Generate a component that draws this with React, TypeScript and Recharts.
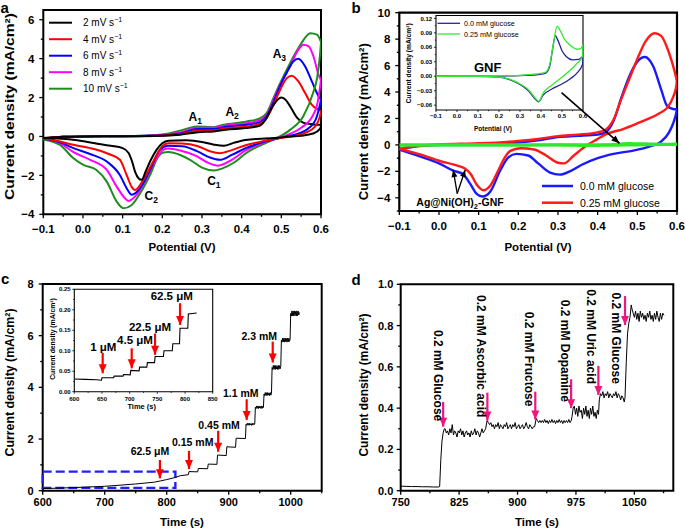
import React from 'react';
import { ComposedChart, Line, XAxis, YAxis, ReferenceArea, ReferenceDot, ReferenceLine } from 'recharts';

const FONT = '"Liberation Sans", Arial, Helvetica, sans-serif';
type Pt = [number, number];

// ---------- (a) CV at different scan rates: [potential (V), current (mA/cm2)] ----------
const aScanRates = ['2', '4', '6', '8', '10'];
const aColors = ['#000000', '#ff0000', '#0000ff', '#ff00ff', '#1e8c1e'];

const a2Fwd: Pt[] = [[-0.1, -0.08], [-0.05, -0.02], [0, 0], [0.1, 0.01], [0.2, 0.04], [0.245, 0.09], [0.27, 0.17], [0.29, 0.22], [0.33, 0.26], [0.36, 0.35], [0.41, 0.43], [0.445, 0.55], [0.46, 0.85], [0.478, 1.55], [0.5, 2.0], [0.51, 1.9], [0.525, 1.45], [0.54, 0.95], [0.556, 0.7], [0.58, 0.62], [0.6, 0.6]];
const a2Rev: Pt[] = [[0.6, 0.6], [0.598, 0.4], [0.58, 0.15], [0.55, 0.04], [0.52, 0], [0.49, -0.07], [0.46, -0.1], [0.41, -0.18], [0.38, -0.33], [0.355, -0.48], [0.33, -0.42], [0.3, -0.28], [0.26, -0.2], [0.215, -0.22], [0.2, -0.35], [0.185, -0.7], [0.17, -1.25], [0.158, -1.8], [0.148, -2.23], [0.14, -2.15], [0.132, -1.85], [0.124, -1.3], [0.115, -0.85], [0.1, -0.6], [0.07, -0.48], [0.03, -0.35], [-0.02, -0.18], [-0.1, -0.08]];

const a4Fwd: Pt[] = [[-0.1, -0.1], [-0.05, -0.02], [0, 0], [0.1, 0.01], [0.2, 0.05], [0.245, 0.12], [0.27, 0.24], [0.29, 0.3], [0.33, 0.32], [0.36, 0.42], [0.41, 0.5], [0.445, 0.65], [0.463, 0.95], [0.48, 1.6], [0.497, 2.4], [0.514, 3.0], [0.526, 3.12], [0.543, 2.83], [0.56, 2.23], [0.577, 1.63], [0.594, 1.37], [0.6, 1.3]];
const a4Rev: Pt[] = [[0.6, 1.3], [0.598, 1.1], [0.585, 0.5], [0.56, 0.18], [0.525, 0], [0.49, -0.1], [0.46, -0.22], [0.41, -0.45], [0.375, -0.7], [0.345, -0.86], [0.32, -0.76], [0.29, -0.5], [0.25, -0.36], [0.215, -0.35], [0.2, -0.5], [0.177, -1.29], [0.152, -2.23], [0.131, -2.75], [0.123, -2.6], [0.11, -1.98], [0.093, -1.2], [0.06, -0.86], [0.018, -0.6], [-0.024, -0.43], [-0.06, -0.25], [-0.1, -0.1]];

const a6Fwd: Pt[] = [[-0.1, -0.12], [-0.05, -0.02], [0, 0], [0.1, 0.01], [0.2, 0.06], [0.245, 0.15], [0.27, 0.3], [0.287, 0.38], [0.33, 0.38], [0.36, 0.5], [0.413, 0.6], [0.447, 0.75], [0.463, 1.05], [0.48, 1.75], [0.497, 2.6], [0.514, 3.3], [0.53, 3.85], [0.543, 3.99], [0.56, 3.6], [0.577, 2.83], [0.594, 2.06], [0.6, 1.9]];
const a6Rev: Pt[] = [[0.6, 1.9], [0.598, 1.7], [0.585, 0.8], [0.56, 0.3], [0.525, 0.05], [0.49, -0.1], [0.46, -0.26], [0.41, -0.6], [0.375, -0.95], [0.345, -1.2], [0.32, -1.08], [0.29, -0.78], [0.25, -0.5], [0.215, -0.48], [0.194, -0.69], [0.169, -1.72], [0.144, -2.66], [0.123, -3.0], [0.11, -2.66], [0.093, -1.98], [0.06, -1.29], [0.018, -0.9], [-0.024, -0.6], [-0.058, -0.3], [-0.1, -0.12]];

const a8Fwd: Pt[] = [[-0.1, -0.12], [-0.05, -0.02], [0, 0], [0.1, 0.01], [0.2, 0.08], [0.245, 0.2], [0.27, 0.36], [0.287, 0.45], [0.33, 0.45], [0.36, 0.57], [0.413, 0.68], [0.447, 0.85], [0.463, 1.1], [0.48, 1.85], [0.497, 2.65], [0.522, 3.6], [0.543, 4.46], [0.556, 4.71], [0.569, 4.63], [0.581, 4.11], [0.594, 3.17], [0.6, 2.9]];
const a8Rev: Pt[] = [[0.6, 2.9], [0.598, 2.6], [0.59, 1.6], [0.58, 1.1], [0.55, 0.45], [0.52, 0.12], [0.49, -0.1], [0.46, -0.28], [0.41, -0.72], [0.375, -1.2], [0.341, -1.5], [0.315, -1.35], [0.285, -1.0], [0.245, -0.72], [0.215, -0.62], [0.203, -0.68], [0.186, -1.12], [0.16, -2.15], [0.135, -3.0], [0.114, -3.31], [0.106, -3.18], [0.085, -2.58], [0.06, -1.72], [0.018, -1.2], [-0.024, -0.81], [-0.058, -0.34], [-0.1, -0.12]];

const a10Fwd: Pt[] = [[-0.1, -0.15], [-0.05, -0.02], [0, 0], [0.1, 0.01], [0.2, 0.1], [0.245, 0.3], [0.27, 0.45], [0.287, 0.51], [0.329, 0.48], [0.354, 0.6], [0.413, 0.77], [0.447, 0.94], [0.463, 1.2], [0.48, 1.97], [0.497, 2.74], [0.522, 3.77], [0.548, 4.71], [0.573, 5.31], [0.59, 5.23], [0.6, 4.85]];
const a10Rev: Pt[] = [[0.6, 4.85], [0.598, 4.3], [0.59, 3.0], [0.58, 2.23], [0.555, 1.03], [0.522, 0.34], [0.488, -0.09], [0.463, -0.31], [0.413, -0.83], [0.38, -1.35], [0.35, -1.65], [0.33, -1.75], [0.3, -1.6], [0.27, -1.2], [0.245, -0.95], [0.215, -0.8], [0.203, -0.82], [0.19, -1.03], [0.169, -1.98], [0.144, -2.92], [0.123, -3.52], [0.102, -3.69], [0.085, -3.35], [0.06, -2.32], [0.034, -1.72], [0.001, -1.46], [-0.024, -1.12], [-0.058, -0.43], [-0.1, -0.15]];

const aFwd = [a2Fwd, a4Fwd, a6Fwd, a8Fwd, a10Fwd];
const aRev = [a2Rev, a4Rev, a6Rev, a8Rev, a10Rev];

const aPeakName = ['A', 'A', 'A', 'C', 'C'];
const aPeakSub = ['1', '2', '3', '1', '2'];
const aPeakPot = [0.283, 0.376, 0.495, 0.33, 0.172];
const aPeakCur = [1.02, 1.29, 4.25, -2.26, -3.05];

// ---------- (b) Ag@Ni(OH)2-GNF with / without glucose ----------
const bLabels = ['0.0 mM glucose', '0.25 mM glucose'];
const bColors = ['#1a1aff', '#ff1a1a'];
const bBlueFwd: Pt[] = [[-0.1, -0.35], [-0.06, -0.12], [0, 0], [0.1, 0.06], [0.2, 0.18], [0.25, 0.35], [0.3, 0.6], [0.35, 0.68], [0.4, 0.78], [0.42, 0.95], [0.44, 1.8], [0.46, 3.6], [0.48, 5.2], [0.5, 6.3], [0.519, 6.65], [0.54, 5.95], [0.56, 4.2], [0.575, 2.95], [0.59, 2.72], [0.6, 2.7]];
const bBlueRev: Pt[] = [[0.6, 2.7], [0.598, 2.4], [0.59, 1.6], [0.58, 0.95], [0.56, 0.25], [0.53, -0.13], [0.49, -0.43], [0.44, -0.68], [0.4, -1.0], [0.36, -1.5], [0.33, -2.0], [0.305, -2.25], [0.28, -2.1], [0.25, -1.4], [0.225, -0.8], [0.195, -0.68], [0.175, -0.95], [0.155, -1.9], [0.13, -3.5], [0.11, -3.9], [0.095, -3.7], [0.08, -3.0], [0.06, -2.2], [0.036, -1.95], [0, -1.4], [-0.05, -0.85], [-0.1, -0.35]];
const bRedFwd: Pt[] = [[-0.1, -0.3], [-0.06, -0.1], [0, 0.03], [0.1, 0.12], [0.2, 0.3], [0.25, 0.45], [0.3, 0.66], [0.35, 0.78], [0.4, 0.95], [0.42, 1.15], [0.44, 1.9], [0.46, 3.5], [0.48, 5.0], [0.5, 6.5], [0.52, 7.8], [0.544, 8.45], [0.56, 8.25], [0.58, 6.95], [0.595, 5.45], [0.6, 4.8]];
const bRedRev: Pt[] = [[0.6, 4.8], [0.598, 4.4], [0.59, 3.6], [0.575, 2.8], [0.556, 2.4], [0.53, 2.0], [0.506, 1.7], [0.464, 1.2], [0.42, 0.8], [0.397, 0.4], [0.372, -0.05], [0.34, -0.8], [0.315, -1.4], [0.3, -1.35], [0.27, -0.8], [0.24, -0.35], [0.205, -0.25], [0.18, -0.45], [0.165, -1.0], [0.15, -1.9], [0.13, -3.05], [0.112, -3.43], [0.095, -3.0], [0.08, -2.2], [0.066, -1.8], [0.05, -1.6], [0, -1.2], [-0.05, -0.7], [-0.1, -0.3]];

// inset: bare GNF
const ibColors = ['#25259a', '#33e833'];
const ibBlueFwd: Pt[] = [[-0.1, 0], [0.1, 0], [0.2, 0.0005], [0.3, 0.0015], [0.38, 0.003], [0.42, 0.006], [0.44, 0.018], [0.455, 0.055], [0.468, 0.084], [0.48, 0.075], [0.5, 0.053], [0.52, 0.041], [0.55, 0.034], [0.58, 0.035], [0.6, 0.042]];
const ibBlueRev: Pt[] = [[0.6, 0.042], [0.598, 0.025], [0.57, 0.006], [0.54, -0.005], [0.5, -0.016], [0.45, -0.027], [0.41, -0.039], [0.388, -0.053], [0.37, -0.046], [0.34, -0.03], [0.3, -0.017], [0.25, -0.007], [0.2, -0.002], [0.1, 0], [-0.1, 0]];
const ibGreenFwd: Pt[] = [[-0.1, 0], [0.1, 0.0005], [0.2, 0.001], [0.3, 0.002], [0.38, 0.005], [0.42, 0.008], [0.44, 0.022], [0.46, 0.07], [0.477, 0.104], [0.49, 0.096], [0.51, 0.078], [0.54, 0.064], [0.57, 0.056], [0.59, 0.058], [0.6, 0.066]];
const ibGreenRev: Pt[] = [[0.6, 0.066], [0.598, 0.042], [0.57, 0.026], [0.54, 0.013], [0.5, -0.002], [0.45, -0.019], [0.41, -0.035], [0.39, -0.052], [0.37, -0.044], [0.34, -0.028], [0.3, -0.016], [0.25, -0.006], [0.2, -0.002], [0.1, 0], [-0.1, 0]];

// ---------- (c) amperometric response, stepwise glucose additions ----------
const cRampTime = [600, 650, 700, 750, 780, 790, 800, 812, 822, 835];
const cRampCurrent = [0.08, 0.12, 0.17, 0.26, 0.33, 0.38, 0.43, 0.5, 0.58, 0.62];
const cStepStart = [836, 851, 867, 882, 897, 912, 928, 943, 957, 970, 985, 1000];
const cStepEnd = [850, 866, 881, 896, 911, 927, 942, 956, 969, 984, 999, 1014];
const cStepValues = [
  [0.74, 0.73],
  [0.86, 0.85],
  [1.03, 1.02],
  [1.38, 1.36],
  [1.7, 1.68],
  [2.03, 2.02],
  [2.57, 2.53, 2.61, 2.54, 2.6, 2.53, 2.61, 2.55, 2.59, 2.53, 2.61, 2.54, 2.6, 2.56, 2.58],
  [3.23, 3.18, 3.28, 3.19, 3.27, 3.18, 3.28, 3.2, 3.26, 3.18, 3.28, 3.19, 3.27, 3.22],
  [3.74, 3.68, 3.8, 3.69, 3.79, 3.68, 3.8, 3.7, 3.78, 3.68, 3.8, 3.7, 3.76],
  [4.77, 4.69, 4.85, 4.7, 4.84, 4.69, 4.85, 4.71, 4.83, 4.69, 4.85, 4.7, 4.84, 4.72, 4.8],
  [5.83, 5.75, 5.91, 5.76, 5.9, 5.75, 5.91, 5.77, 5.89, 5.75, 5.91, 5.76, 5.9, 5.78, 5.86],
  [6.86, 6.76, 6.96, 6.77, 6.95, 6.76, 6.96, 6.78, 6.94, 6.76, 6.96, 6.77, 6.95, 6.8, 6.9],
];
const cArrowText = ['62.5 μM', '0.15 mM', '0.45 mM', '1.1 mM', '2.3 mM'];
const cArrowTime = [789, 836, 883, 929, 971];
const cArrowTail = [1.19, 1.54, 2.32, 3.54, 5.77];
const cArrowTip = [0.48, 0.84, 1.51, 2.74, 4.96];
const cTextTime = [773, 842, 884.4, 919.4, 949.4];
const cTextCurrent = [1.51, 1.86, 2.54, 3.77, 5.99];

// inset: low concentration range
const icTime = [600, 620, 640, 649, 650, 671, 672, 688, 689, 701, 702, 717, 718, 731, 732, 745, 746, 761, 762, 777, 778, 790, 791, 805, 806, 821];
const icCurrent = [0.031, 0.03, 0.029, 0.028, 0.034, 0.034, 0.038, 0.038, 0.042, 0.041, 0.052, 0.051, 0.06, 0.06, 0.071, 0.071, 0.086, 0.086, 0.1, 0.1, 0.117, 0.117, 0.155, 0.155, 0.19, 0.192];
const icArrowText = ['1 μM', '4.5 μM', '22.5 μM', '62.5 μM'];
const icArrowTime = [651.3, 703.7, 745.8, 791];
const icArrowTail = [0.095, 0.106, 0.142, 0.216];
const icArrowTip = [0.045, 0.057, 0.09, 0.163];
const icTextTime = [652.4, 709.6, 736.7, 776];
const icTextCurrent = [0.11, 0.126, 0.159, 0.234];

// ---------- (d) interference test ----------
const dSegStart = [750, 800, 807, 861, 924, 970, 1005, 1038, 1047];
const dSegEnd = [799, 806, 859, 922, 969, 1004, 1037, 1046, 1088];
const dSegValues = [
  [0.022, 0.021, 0.02, 0.02, 0.019, 0.019, 0.018, 0.018],
  [0.02, 0.15, 0.24, 0.28, 0.3],
  [0.3, 0.28, 0.29, 0.27, 0.3, 0.28, 0.32, 0.27, 0.29, 0.28, 0.26, 0.29, 0.28, 0.3, 0.27, 0.29, 0.26, 0.28, 0.29, 0.27, 0.28, 0.26, 0.29, 0.27, 0.28, 0.3, 0.27, 0.29, 0.28, 0.26, 0.28, 0.3, 0.28, 0.29, 0.3],
  [0.34, 0.33, 0.32, 0.33, 0.31, 0.32, 0.3, 0.32, 0.31, 0.33, 0.3, 0.32, 0.31, 0.3, 0.32, 0.31, 0.33, 0.3, 0.31, 0.32, 0.3, 0.32, 0.31, 0.33, 0.3, 0.31, 0.32, 0.3, 0.31, 0.32, 0.3, 0.31, 0.33, 0.31, 0.3, 0.32, 0.31, 0.3, 0.31, 0.31],
  [0.35, 0.34, 0.33, 0.34, 0.33, 0.34, 0.33, 0.345, 0.33, 0.34, 0.325, 0.34, 0.33, 0.345, 0.33, 0.34, 0.325, 0.34, 0.33, 0.345, 0.33, 0.34, 0.325, 0.34, 0.33, 0.34, 0.33, 0.345, 0.33, 0.34],
  [0.36, 0.4, 0.41, 0.37, 0.4, 0.36, 0.41, 0.38, 0.39, 0.35, 0.4, 0.37, 0.41, 0.36, 0.39, 0.35, 0.4, 0.37, 0.41, 0.36, 0.38, 0.35, 0.39, 0.37],
  [0.44, 0.47, 0.46, 0.48, 0.45, 0.47, 0.46, 0.48, 0.45, 0.47, 0.46, 0.45, 0.47, 0.46, 0.48, 0.45, 0.47, 0.46, 0.44, 0.46, 0.45, 0.43],
  [0.45, 0.62, 0.76, 0.81, 0.84, 0.9],
  [0.88, 0.86, 0.84, 0.87, 0.83, 0.86, 0.82, 0.87, 0.84, 0.86, 0.83, 0.85, 0.82, 0.86, 0.84, 0.87, 0.83, 0.85, 0.82, 0.86, 0.83, 0.87, 0.84, 0.82, 0.86, 0.83, 0.86, 0.85],
];
const dArrowText = ['0.2 mM Glucose', '0.2 mM Ascorbic acid', '0.2 mM Fructose', '0.2 mM Dopamine', '0.2 mM Uric acid', '0.2 mM Glucose'];
const dArrowTime = [804.5, 861.3, 922.8, 968.8, 1003.8, 1038];
const dArrowTail = [0.43, 0.475, 0.48, 0.54, 0.605, 0.943];
const dArrowTip = [0.31, 0.34, 0.345, 0.4, 0.464, 0.803];
const dTextTime = [798.1, 852.8, 915.5, 961.2, 995.2, 1026.5];
const dTextTop = [0.779, 0.948, 0.867, 0.925, 0.976, 0.96];

// ---------- ticks ----------
const cvXTicks = [-0.1, -0.05, 0, 0.05, 0.1, 0.15, 0.2, 0.25, 0.3, 0.35, 0.4, 0.45, 0.5, 0.55, 0.6];
const cvXLabels = ['−0.1', '', '0.0', '', '0.1', '', '0.2', '', '0.3', '', '0.4', '', '0.5', '', '0.6'];
const aYTicks = [-4, -3, -2, -1, 0, 1, 2, 3, 4, 5, 6];
const aYLabels = ['−4', '', '−2', '', '0', '', '2', '', '4', '', '6'];
const bYTicks = [-5, -4, -3, -2, -1, 0, 1, 2, 3, 4, 5, 6, 7, 8, 9, 10];
const bYLabels = ['', '−4', '', '−2', '', '0', '', '2', '', '4', '', '6', '', '8', '', '10'];
const ibYTicks = [-0.06, -0.045, -0.03, -0.015, 0, 0.015, 0.03, 0.045, 0.06, 0.075, 0.09, 0.105, 0.12];
const ibYLabels = ['−0.06', '', '−0.03', '', '0.00', '', '0.03', '', '0.06', '', '0.09', '', '0.12'];
const cXTicks = [600, 650, 700, 750, 800, 850, 900, 950, 1000, 1050];
const cXLabels = ['600', '', '700', '', '800', '', '900', '', '1000', ''];
const cYTicks = [0, 1, 2, 3, 4, 5, 6, 7, 8];
const cYLabels = ['0', '', '2', '', '4', '', '6', '', '8'];
const icXTicks = [600, 625, 650, 675, 700, 725, 750, 775, 800, 825, 850];
const icXLabels = ['600', '', '650', '', '700', '', '750', '', '800', '', '850'];
const icYTicks = [0, 0.025, 0.05, 0.075, 0.1, 0.125, 0.15, 0.175, 0.2, 0.225, 0.25];
const icYLabels = ['0.00', '', '0.05', '', '0.10', '', '0.15', '', '0.20', '', '0.25'];
const dXTicks = [750, 787.5, 825, 862.5, 900, 937.5, 975, 1012.5, 1050, 1087.5];
const dXLabels = ['750', '', '825', '', '900', '', '975', '', '1050', ''];
const dYTicks = [0, 0.1, 0.2, 0.3, 0.4, 0.5, 0.6, 0.7, 0.8, 0.9, 1.0];
const dYLabels = ['0.0', '', '0.2', '', '0.4', '', '0.6', '', '0.8', '', '1.0'];

// ---------- helpers ----------
const pts = (arr: Pt[]) => arr.map(([x, y]) => ({ x, y }));
const pairs = (xs: number[], ys: number[]) => xs.map((x, i) => ({ x, y: ys[i] }));
const spread = (starts: number[], ends: number[], values: number[][]) => {
  const out: { x: number; y: number }[] = [];
  starts.forEach((s, k) => {
    const v = values[k];
    v.forEach((y, i) => out.push({ x: v.length > 1 ? s + (i * (ends[k] - s)) / (v.length - 1) : s, y }));
  });
  return out;
};

const tick = (side: 'left' | 'bottom', values: number[], labels: string[], fs: number, major: number, minor: number, gap: number, lw = 1.3) =>
  (p: any) => {
    const i = values.indexOf(p.payload.value);
    const lab = i >= 0 ? labels[i] : '';
    const len = lab ? major : minor;
    const txt = { fontSize: fs, fontWeight: 'bold' as const, fontFamily: FONT, fill: '#000' };
    if (side === 'left') {
      return (
        <g>
          <line x1={p.x} y1={p.y} x2={p.x - len} y2={p.y} stroke="#000" strokeWidth={lw} />
          {lab ? <text x={p.x - major - gap} y={p.y} dy="0.36em" textAnchor="end" {...txt}>{lab}</text> : null}
        </g>
      );
    }
    return (
      <g>
        <line x1={p.x} y1={p.y} x2={p.x} y2={p.y + len} stroke="#000" strokeWidth={lw} />
        {lab ? <text x={p.x} y={p.y + gap} textAnchor="middle" {...txt}>{lab}</text> : null}
      </g>
    );
  };

const axisBase = { type: 'number' as const, allowDataOverflow: true, interval: 0, axisLine: false, tickLine: false, tickSize: 0, tickMargin: 0 };

const frame = (x1: number, x2: number, y1: number, y2: number, w: number) => (
  <ReferenceArea x1={x1} x2={x2} y1={y1} y2={y2} fill="none" fillOpacity={0} stroke="#000" strokeWidth={w} ifOverflow="visible" />
);

const note = (key: string, x: number, y: number, render: (cx: number, cy: number) => React.ReactElement) => (
  <ReferenceDot key={key} x={x} y={y} r={0} ifOverflow="visible" shape={(p: any) => render(p.cx, p.cy)} />
);

const arrow = (key: string, x1: number, y1: number, x2: number, y2: number, color: string, w: number, angle: number, headW: number, headL: number) => [
  <ReferenceLine key={key + 's'} segment={[{ x: x1, y: y1 }, { x: x2, y: y2 }]} stroke={color} strokeWidth={w} ifOverflow="visible" />,
  note(key + 'h', x2, y2, (cx, cy) => (
    <polygon transform={`translate(${cx},${cy}) rotate(${angle - 90})`} points={`0,0 ${-headW / 2},${-headL} ${headW / 2},${-headL}`} fill={color} />
  )),
];

const boldText = (fs: number) => ({ fontSize: fs, fontWeight: 'bold' as const, fontFamily: FONT, fill: '#000' });

const cvLine = (key: string, data: Pt[], color: string, w: number) => (
  <Line key={key} data={pts(data)} dataKey="y" type="monotone" stroke={color} strokeWidth={w} dot={false} isAnimationActive={false} />
);

// ---------- panels ----------
function PanelA() {
  const order = [4, 3, 2, 1, 0];
  return (
    <ComposedChart width={330} height={262} margin={{ top: 10, right: 9, bottom: 0, left: 0 }}>
      <XAxis {...axisBase} dataKey="x" domain={[-0.1, 0.6]} ticks={cvXTicks} height={47.7} tick={tick('bottom', cvXTicks, cvXLabels, 11.5, 4, 2.5, 18.5)} />
      <YAxis {...axisBase} domain={[-4, 6.5]} ticks={aYTicks} width={43.3} tick={tick('left', aYTicks, aYLabels, 11.5, 4, 2.5, 5)} />
      {frame(-0.1, 0.6, -4, 6.5, 2)}
      {order.map((i) => cvLine('af' + i, aFwd[i], aColors[i], 2))}
      {order.map((i) => cvLine('ar' + i, aRev[i], aColors[i], 2))}
      {aPeakName.map((n, i) =>
        note('ap' + i, aPeakPot[i], aPeakCur[i], (cx, cy) => (
          <text x={cx} y={cy} textAnchor="middle" dy="0.35em" {...boldText(12)}>
            {n}
            <tspan dy={3} fontSize={8.5}>{aPeakSub[i]}</tspan>
          </text>
        )),
      )}
    </ComposedChart>
  );
}

function PanelB() {
  return (
    <ComposedChart width={345} height={262} margin={{ top: 12.7, right: 8, bottom: 0, left: 0 }}>
      <XAxis {...axisBase} dataKey="x" domain={[-0.1, 0.6]} ticks={cvXTicks} height={51} tick={tick('bottom', cvXTicks, cvXLabels, 11.5, 4, 2.5, 18.5)} />
      <YAxis {...axisBase} domain={[-5, 10]} ticks={bYTicks} width={59.3} tick={tick('left', bYTicks, bYLabels, 11.5, 4, 2.5, 5)} />
      {frame(-0.1, 0.6, -5, 10, 2.2)}
      {cvLine('bbf', bBlueFwd, bColors[0], 2.4)}
      {cvLine('bbr', bBlueRev, bColors[0], 2.4)}
      {cvLine('brf', bRedFwd, bColors[1], 2.4)}
      {cvLine('brr', bRedRev, bColors[1], 2.4)}
      {cvLine('bgf', ibGreenFwd, '#2ee82e', 3)}
      {cvLine('bgr', ibGreenRev, '#2ee82e', 3)}
      {arrow('b1', 0.046, -3.68, 0.036, -1.9, '#000', 1.3, -99.6, 6, 7)}
      {arrow('b2', 0.046, -3.68, 0.066, -1.9, '#000', 1.3, -71.4, 6, 7)}
      {arrow('b3', 0.309, 3.95, 0.455, 0.12, '#000', 1.6, 41.2, 6.5, 8)}
      {note('bag', 0.053, -4.38, (cx, cy) => (
        <text x={cx} y={cy} textAnchor="middle" dy="0.35em" {...boldText(10.5)}>
          Ag@Ni(OH)<tspan dy={2.5} fontSize={7.5}>2</tspan><tspan dy={-2.5}>-GNF</tspan>
        </text>
      ))}
    </ComposedChart>
  );
}

function InsetB() {
  return (
    <ComposedChart width={185} height={122} margin={{ top: 1.5, right: 7, bottom: 0, left: 0 }}>
      <XAxis {...axisBase} dataKey="x" domain={[-0.1, 0.6]} ticks={cvXTicks} height={26} tick={tick('bottom', cvXTicks, cvXLabels, 6, 2, 1.2, 8.3, 0.8)} />
      <YAxis {...axisBase} domain={[-0.07, 0.126]} ticks={ibYTicks} width={31} tick={tick('left', ibYTicks, ibYLabels, 6, 2, 1.2, 1.8, 0.8)} />
      {frame(-0.1, 0.6, -0.07, 0.126, 1.1)}
      {cvLine('ibf', ibBlueFwd, ibColors[0], 1.3)}
      {cvLine('ibr', ibBlueRev, ibColors[0], 1.3)}
      {cvLine('igf', ibGreenFwd, ibColors[1], 1.3)}
      {cvLine('igr', ibGreenRev, ibColors[1], 1.3)}
      {note('gnf', 0.146, 0.018, (cx, cy) => (
        <text x={cx} y={cy} textAnchor="middle" dy="0.35em" {...boldText(13)}>GNF</text>
      ))}
    </ComposedChart>
  );
}

function PanelC() {
  const steps = spread(cStepStart, cStepEnd, cStepValues);
  const data = [...pairs(cRampTime, cRampCurrent), ...steps];
  return (
    <ComposedChart width={335} height={264} margin={{ top: 19, right: 13.3, bottom: 0, left: 0 }}>
      <XAxis {...axisBase} dataKey="x" domain={[600, 1050]} ticks={cXTicks} height={38.3} tick={tick('bottom', cXTicks, cXLabels, 11, 4, 2.5, 15.5)} />
      <YAxis {...axisBase} domain={[0, 8]} ticks={cYTicks} width={42.7} tick={tick('left', cYTicks, cYLabels, 11, 4, 2.5, 5)} />
      {frame(600, 1050, 0, 8, 2)}
      <ReferenceArea x1={600} x2={814} y1={0.11} y2={0.74} fill="none" fillOpacity={0} stroke="#1f1fff" strokeWidth={2.4} strokeDasharray="9 4" ifOverflow="visible" />
      <Line data={data} dataKey="y" type="linear" stroke="#000" strokeWidth={1} dot={false} isAnimationActive={false} />
      {cArrowText.map((_, i) => arrow('ca' + i, cArrowTime[i], cArrowTail[i], cArrowTime[i], cArrowTip[i], '#ff0000', 2.2, 90, 8, 9))}
      {cArrowText.map((t, i) =>
        note('ct' + i, cTextTime[i], cTextCurrent[i], (cx, cy) => (
          <text x={cx} y={cy} textAnchor="middle" dy="0.35em" {...boldText(10.5)}>{t}</text>
        )),
      )}
    </ComposedChart>
  );
}

function InsetC() {
  return (
    <ComposedChart width={180} height={130} margin={{ top: 4.3, right: 7.3, bottom: 0, left: 0 }}>
      <XAxis {...axisBase} dataKey="x" domain={[600, 850]} ticks={icXTicks} height={23.3} tick={tick('bottom', icXTicks, icXLabels, 6, 2, 1.2, 9, 0.8)} />
      <YAxis {...axisBase} domain={[0, 0.25]} ticks={icYTicks} width={34.3} tick={tick('left', icYTicks, icYLabels, 6, 2, 1.2, 1.6, 0.8)} />
      {frame(600, 850, 0, 0.25, 1.1)}
      <Line data={pairs(icTime, icCurrent)} dataKey="y" type="linear" stroke="#000" strokeWidth={1.1} dot={false} isAnimationActive={false} />
      {icArrowText.map((_, i) => arrow('ia' + i, icArrowTime[i], icArrowTail[i], icArrowTime[i], icArrowTip[i], '#ff0000', 2.2, 90, 8, 9))}
      {icArrowText.map((t, i) =>
        note('it' + i, icTextTime[i], icTextCurrent[i], (cx, cy) => (
          <text x={cx} y={cy} textAnchor="middle" dy="0.35em" {...boldText(11.5)}>{t}</text>
        )),
      )}
    </ComposedChart>
  );
}

function PanelD() {
  const data = spread(dSegStart, dSegEnd, dSegValues);
  return (
    <ComposedChart width={345} height={264} margin={{ top: 19.3, right: 11.7, bottom: 0, left: 0 }}>
      <XAxis {...axisBase} dataKey="x" domain={[750, 1100]} ticks={dXTicks} height={38.3} tick={tick('bottom', dXTicks, dXLabels, 11, 4, 2.5, 15.5)} />
      <YAxis {...axisBase} domain={[0, 1]} ticks={dYTicks} width={60.7} tick={tick('left', dYTicks, dYLabels, 11, 4, 2.5, 3.4)} />
      {frame(750, 1100, 0, 1, 2)}
      <Line data={data} dataKey="y" type="linear" stroke="#000" strokeWidth={1} dot={false} isAnimationActive={false} />
      {dArrowText.map((_, i) => arrow('da' + i, dArrowTime[i], dArrowTail[i], dArrowTime[i], dArrowTip[i], '#f5157a', 2.2, 90, 8, 9))}
      {dArrowText.map((t, i) =>
        note('dt' + i, dTextTime[i], dTextTop[i], (cx, cy) => (
          <text transform={`translate(${cx},${cy}) rotate(90)`} x={0} y={0} dy="0.35em" textAnchor="start" {...boldText(12)}>{t}</text>
        )),
      )}
    </ComposedChart>
  );
}

function Overlay() {
  const b = (fs: number) => ({ fontSize: fs, fontWeight: 'bold' as const, fontFamily: FONT, fill: '#000' });
  const n = (fs: number) => ({ fontSize: fs, fontFamily: FONT, fill: '#000' });
  const yTitle = 'Current density (mA/cm²)';
  return (
    <svg width={685} height={529} style={{ position: 'absolute', left: 0, top: 0, pointerEvents: 'none' }}>
      <text x={0.5} y={12.5} {...b(15)}>a</text>
      <text x={351.5} y={13} {...b(15)}>b</text>
      <text x={1} y={284} {...b(15)}>c</text>
      <text x={351.5} y={284.5} {...b(15)}>d</text>

      <text x={182} y={250.5} textAnchor="middle" {...b(11.5)}>Potential (V)</text>
      <text transform="translate(14,106.5) rotate(-90)" textAnchor="middle" textLength={187} lengthAdjust="spacingAndGlyphs" {...b(12.5)}>{yTitle}</text>
      <text x={538} y={250.5} textAnchor="middle" {...b(11.5)}>Potential (V)</text>
      <text transform="translate(368,121.7) rotate(-90)" textAnchor="middle" textLength={157} lengthAdjust="spacingAndGlyphs" {...b(12)}>{yTitle}</text>
      <text x={182} y={525.5} textAnchor="middle" {...b(11.5)}>Time (s)</text>
      <text transform="translate(14,382.5) rotate(-90)" textAnchor="middle" textLength={148} lengthAdjust="spacingAndGlyphs" {...b(12)}>{yTitle}</text>
      <text x={537} y={525.5} textAnchor="middle" {...b(11.5)}>Time (s)</text>
      <text transform="translate(368,385) rotate(-90)" textAnchor="middle" textLength={143} lengthAdjust="spacingAndGlyphs" {...b(12)}>{yTitle}</text>

      <text x={493} y={130.5} textAnchor="middle" {...b(6.5)}>Potential (V)</text>
      <text transform="translate(411,63.3) rotate(-90)" textAnchor="middle" textLength={80} lengthAdjust="spacingAndGlyphs" {...b(6.5)}>{yTitle}</text>
      <text x={141.7} y={409} textAnchor="middle" {...b(7.5)}>Time (s)</text>
      <text transform="translate(55,339) rotate(-90)" textAnchor="middle" textLength={81.7} lengthAdjust="spacingAndGlyphs" {...b(6.5)}>{yTitle}</text>

      {aScanRates.map((r, i) => {
        const y = 22.7 + i * 16.5;
        return (
          <g key={'la' + i}>
            <line x1={49} x2={72} y1={y} y2={y} stroke={aColors[i]} strokeWidth={2} />
            <text x={83} y={y + 3.6} {...n(10)}>
              {r} mV s<tspan dy={-4} fontSize={7}>−1</tspan>
            </text>
          </g>
        );
      })}
      {bLabels.map((l, i) => {
        const y = 186 + i * 16.7;
        return (
          <g key={'lb' + i}>
            <line x1={542} x2={573} y1={y} y2={y} stroke={bColors[i]} strokeWidth={2.5} />
            <text x={580} y={y + 3.8} {...n(10.5)}>{l}</text>
          </g>
        );
      })}
      {bLabels.map((l, i) => {
        const y = 23.3 + i * 10.7;
        return (
          <g key={'lib' + i}>
            <line x1={437.5} x2={460} y1={y} y2={y} stroke={ibColors[i]} strokeWidth={1.3} />
            <text x={464} y={y + 2.6} {...n(7.2)}>{l}</text>
          </g>
        );
      })}
    </svg>
  );
}

export default function App() {
  const abs = (left: number, top: number): React.CSSProperties => ({ position: 'absolute', left, top });
  return (
    <div style={{ position: 'absolute', left: 0, top: 0, width: 685, height: 529, background: '#fff', overflow: 'hidden', fontFamily: FONT }}>
      <div style={abs(0, 0)}><PanelA /></div>
      <div style={abs(340, 0)}><PanelB /></div>
      <div style={abs(405, 14)}><InsetB /></div>
      <div style={abs(0, 265)}><PanelC /></div>
      <div style={abs(40, 285)}><InsetC /></div>
      <div style={abs(340, 265)}><PanelD /></div>
      <Overlay />
    </div>
  );
}
